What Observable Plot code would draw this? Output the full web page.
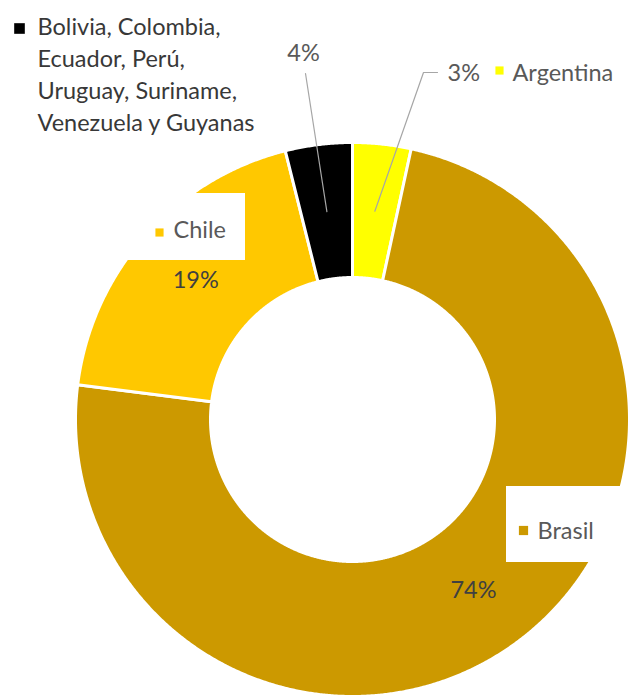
<!DOCTYPE html>
<html><head><meta charset="utf-8">
<script src="https://cdn.jsdelivr.net/npm/d3@7"></script>
<script src="https://cdn.jsdelivr.net/npm/@observablehq/plot@0.6"></script>
<style>body{margin:0;background:#fff;overflow:hidden}</style>
</head><body><div id="chart"></div>
<script>
// ---- data ----
const categories = ["Argentina", "Brasil", "Chile", "Bolivia, Colombia, Ecuador, Perú, Uruguay, Suriname, Venezuela y Guyanas"];
const shares = [3.4, 73.6, 19.1, 3.9];
const percentLabels = ["3%", "74%", "19%", "4%"];
const nameLabels = ["Argentina", "Brasil", "Chile", "Bolivia, Colombia,\nEcuador, Perú,\nUruguay, Suriname,\nVenezuela y Guyanas"];
const colors = ["#FFFF00", "#CC9900", "#FFC800", "#000000"];

// ---- layout (chart units, centre of donut = 0,0, y up) ----
const R = 277, R0 = 142, RM = (R + R0) / 2;
const FS = 23.5;
const pctPlace = [
  {x: 95, y: 339, anchor: "start"},   // Argentina (outside, leader)
  null,                               // Brasil (centroid)
  null,                               // Chile (centroid)
  {x: -49, y: 359, anchor: "middle"}  // others (outside, leader)
];
const leaderEnds = [
  [[71, 347], [85, 347]],
  null, null,
  [[-47, 346]]
];
const namePlace = [
  {x: 160, y: 339, kx: 147, ky: 349, k: 4.6},
  {x: 185, y: -119, kx: 171, ky: -111, k: 5.2},
  {x: -179, y: 182, kx: -193, ky: 187, k: 4.6},
  {x: -315, y: 289, kx: -333, ky: 391, k: 6.0}
];
const boxes = [
  {x1: 154, x2: 290, y1: -67, y2: -143},
  {x1: -239, x2: -107, y1: 226, y2: 159}
];

const data = categories.map((c, i) => ({name: c, value: shares[i], pct: percentLabels[i], label: nameLabels[i]}));
const arcs = d3.pie().sort(null).value(d => d.value).startAngle(0).endAngle(2 * Math.PI)(data);

const ring = [];
arcs.forEach(a => {
  const n = Math.max(4, Math.ceil((a.endAngle - a.startAngle) / 0.005));
  for (let i = 0; i <= n; i++) {
    const t = a.startAngle + (a.endAngle - a.startAngle) * i / n;
    ring.push({name: a.data.name, x: R * Math.sin(t), y: R * Math.cos(t)});
  }
  for (let i = n; i >= 0; i--) {
    const t = a.startAngle + (a.endAngle - a.startAngle) * i / n;
    ring.push({name: a.data.name, x: R0 * Math.sin(t), y: R0 * Math.cos(t)});
  }
});

const cent = arcs.map(a => {
  const m = (a.startAngle + a.endAngle) / 2;
  return {name: a.data.name, pct: a.data.pct, x: RM * Math.sin(m), y: RM * Math.cos(m)};
});

const leaders = [];
cent.forEach((c, i) => {
  if (!leaderEnds[i]) return;
  leaders.push({name: c.name, x: c.x, y: c.y});
  leaderEnds[i].forEach(([x, y]) => leaders.push({name: c.name, x, y}));
});

const innerPct = cent.filter((c, i) => !pctPlace[i]);
const outerPct = cent.map((c, i) => pctPlace[i] ? {...pctPlace[i], pct: c.pct} : null).filter(Boolean);
const names = data.map((d, i) => ({...namePlace[i], name: d.name, label: d.label}));

const chart = Plot.plot({
  width: 630, height: 695, margin: 0,
  x: {domain: [-352, 278], axis: null},
  y: {domain: [-276, 419], axis: null},
  r: {type: "identity"},
  color: {domain: categories, range: colors},
  style: {fontFamily: "Lato, 'Open Sans', sans-serif", background: "white"},
  marks: [
    Plot.line(ring, {x: "x", y: "y", z: "name", fill: "name", stroke: "white", strokeWidth: 3, curve: "linear-closed"}),
    Plot.line(leaders, {x: "x", y: "y", z: "name", stroke: "#A6A6A6", strokeWidth: 1.2}),
    Plot.rect(boxes, {x1: "x1", x2: "x2", y1: "y1", y2: "y2", fill: "white"}),
    Plot.text(innerPct, {x: "x", y: "y", text: "pct", fill: "#404040", fontSize: FS, textAnchor: "middle", lineAnchor: "middle"}),
    Plot.text(outerPct.filter(d => d.anchor === "start"), {x: "x", y: "y", text: "pct", fill: "#595959", fontSize: FS, textAnchor: "start", lineAnchor: "bottom"}),
    Plot.text(outerPct.filter(d => d.anchor === "middle"), {x: "x", y: "y", text: "pct", fill: "#595959", fontSize: FS, textAnchor: "middle", lineAnchor: "bottom"}),
    Plot.text(names.slice(0, 3), {x: "x", y: "y", text: "label", fill: "#595959", fontSize: FS, textAnchor: "start", lineAnchor: "bottom"}),
    Plot.text(names.slice(3), {x: "x", y: "y", text: "label", fill: "#383838", fontSize: FS, textAnchor: "start", lineAnchor: "bottom", lineHeight: 32 / FS}),
    Plot.dot(names, {x: "kx", y: "ky", r: "k", symbol: "square", fill: "name", stroke: null})
  ]
});
document.getElementById("chart").appendChild(chart);
</script>
</body></html>
